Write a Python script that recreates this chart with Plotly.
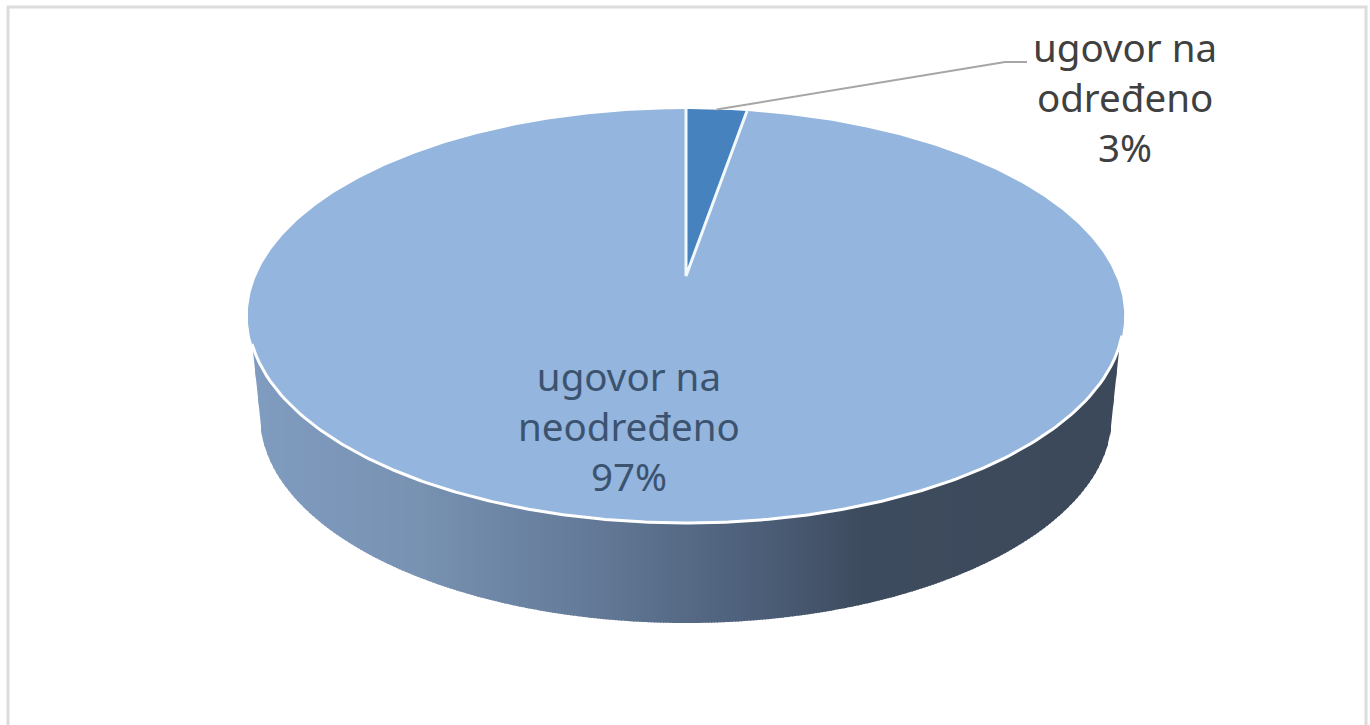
import numpy as np
import plotly.graph_objects as go

categories = ["ugovor na<br>određeno", "ugovor na<br>neodređeno"]
values = [2.7, 97.3]
slice_colors = ["#4683BE", "#94B5DD"]
label_colors = ["#404040", "#3C5370"]
label_pos = [(1125, 97), (629, 426)]

W, H = 1370, 725
# projected disc
AX, AY, A, B, K = 686.0, 276.0, 430.0, 199.2, 0.193
# lower rim
LOW_CX, LOW_CY, LOW_RX, LOW_RY = 686.0, 416.0, 426.0, 207.0
TOP_CY, TOP_RX, TOP_RY = 316.0, 438.0, 207.0


def disc(theta):
    X, Y = np.sin(theta), np.cos(theta)
    return AX + A * X / (1 + K * Y), AY - B * Y / (1 + K * Y)


def lerp_color(x):
    stops = [(250, (128, 156, 192)), (420, (120, 146, 178)), (600, (98, 120, 150)),
             (760, (76, 94, 120)), (860, (62, 76, 95)), (1130, (60, 73, 90))]
    xs = [s[0] for s in stops]
    c = [int(np.interp(x, xs, [s[1][i] for s in stops])) for i in range(3)]
    return f"rgb({c[0]},{c[1]},{c[2]})"


def top_y(x):
    return TOP_CY + TOP_RY * np.sqrt(np.clip(1 - ((x - AX) / TOP_RX) ** 2, 0, 1))


def low_y(x):
    dx = abs(x - LOW_CX)
    if dx <= LOW_RX:
        return LOW_CY + LOW_RY * np.sqrt(1 - (dx / LOW_RX) ** 2)
    return LOW_CY - (dx - LOW_RX) / 8 * (LOW_CY - 342)


fig = go.Figure()

# frame
fig.add_trace(go.Scatter(x=[8, 8, 1366, 1366], y=[725, 7, 7, 725], mode="lines",
                         line=dict(color="#DCDCDC", width=3), hoverinfo="skip", showlegend=False))

# side wall, drawn as thin strips so that it can shade from left to right
xs = np.arange(252, 1122, 3.0)
for x0 in xs:
    x1 = min(x0 + 4, 1122)
    grid = np.linspace(x0, x1, 3)
    px = list(grid) + list(grid[::-1])
    py = [top_y(v) for v in grid] + [low_y(v) for v in grid[::-1]]
    fig.add_trace(go.Scatter(x=px, y=py, mode="lines", fill="toself", fillcolor=lerp_color(x0),
                             line=dict(width=0), hoverinfo="skip", showlegend=False))

# top face, from the values
total = sum(values)
start = 0.0
angles = []
for value, color in zip(values, slice_colors):
    end = start + value / total * 2 * np.pi
    th = np.linspace(start, end, max(8, int(value * 6)))
    ex, ey = disc(th)
    fig.add_trace(go.Scatter(x=[AX, *ex, AX], y=[AY, *ey, AY], mode="lines", fill="toself",
                             fillcolor=color, line=dict(width=0), hoverinfo="skip", showlegend=False))
    angles.append((start, end))
    start = end

# white edges: the slice spokes and the front of the rim
ex0, ey0 = disc(np.array([0.0]))
ex1, ey1 = disc(np.array([angles[0][1]]))
fig.add_trace(go.Scatter(x=[ex0[0], AX, ex1[0]], y=[ey0[0], AY, ey1[0]], mode="lines",
                         line=dict(color="#F2F8FC", width=3), hoverinfo="skip", showlegend=False))
rim_x = np.linspace(252, 1122, 240)
fig.add_trace(go.Scatter(x=rim_x, y=[top_y(v) for v in rim_x], mode="lines",
                         line=dict(color="#FFFFFF", width=3), hoverinfo="skip", showlegend=False))

# leader line
mid = (angles[0][0] + angles[0][1]) / 2
lx, ly = disc(np.array([mid]))
fig.add_trace(go.Scatter(x=[lx[0], 1005, 1027], y=[ly[0], 62, 62], mode="lines",
                         line=dict(color="#A6A6A6", width=2), hoverinfo="skip", showlegend=False))

# labels
for cat, value, col, (tx, ty) in zip(categories, values, label_colors, label_pos):
    fig.add_annotation(x=tx, y=ty, xref="x", yref="y", showarrow=False,
                       text=f"{cat}<br>{round(value)}%", align="center",
                       font=dict(family="Noto Sans", size=38.5, color=col))

fig.update_layout(width=W, height=H, margin=dict(l=0, r=0, t=0, b=0),
                  paper_bgcolor="#FFFFFF", plot_bgcolor="#FFFFFF",
                  xaxis=dict(range=[0, W], visible=False, fixedrange=True),
                  yaxis=dict(range=[H, 0], visible=False, fixedrange=True))
fig.write_html("out.html", config={"displayModeBar": False},
               post_script="document.body.style.margin='0';document.body.style.overflow='hidden';")
